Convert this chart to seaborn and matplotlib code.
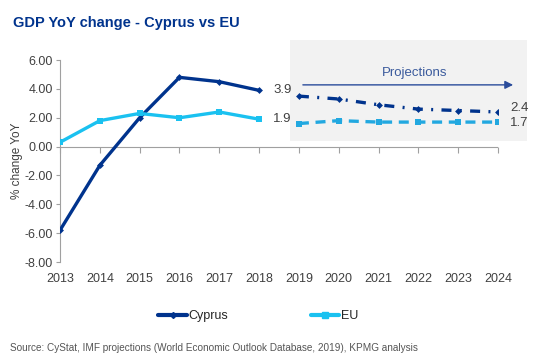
import matplotlib
matplotlib.use("Agg")
import matplotlib.pyplot as plt
from matplotlib.patches import Rectangle
from matplotlib.lines import Line2D
import seaborn as sns
import pandas as pd

# actual data 2013-2018
years_hist = [2013, 2014, 2015, 2016, 2017, 2018]
cyprus_hist = [-5.8, -1.3, 2.0, 4.8, 4.5, 3.9]
eu_hist = [0.3, 1.8, 2.3, 2.0, 2.4, 1.9]

# IMF projections 2019-2024
years_proj = [2019, 2020, 2021, 2022, 2023, 2024]
cyprus_proj = [3.5, 3.3, 2.9, 2.6, 2.5, 2.4]
eu_proj = [1.6, 1.8, 1.7, 1.7, 1.7, 1.7]

yticks = [-8, -6, -4, -2, 0, 2, 4, 6]

DARK = "#00338D"
LIGHT = "#1AC1F0"
GREY = "#404040"
AXIS = "#A0A0A0"


def main():
    sns.set_style("white")
    plt.rcParams['font.family'] = ['Liberation Sans', 'DejaVu Sans']

    fig = plt.figure(figsize=(5.47, 3.64), dpi=100)
    ax = fig.add_axes([0.1097, 0.2802, 0.8007, 0.5548])

    hist = pd.DataFrame({"year": years_hist, "Cyprus": cyprus_hist, "EU": eu_hist})
    proj = pd.DataFrame({"year": years_proj, "Cyprus": cyprus_proj, "EU": eu_proj})

    # shaded projections panel (extends above the plot area)
    ax.add_patch(Rectangle((2018.78, 0.4), 5.95, 7.0, facecolor="#F2F2F2",
                           edgecolor="none", clip_on=False, zorder=0))

    # horizontal category axis crossing at zero
    ax.axhline(0, color=AXIS, lw=0.8, zorder=1)

    sns.lineplot(data=hist, x="year", y="Cyprus", ax=ax, color=DARK, lw=2.4,
                 marker="D", markersize=3.5, markeredgewidth=0, zorder=3)
    sns.lineplot(data=hist, x="year", y="EU", ax=ax, color=LIGHT, lw=2.4,
                 marker="s", markersize=4.5, markeredgewidth=0, zorder=3)
    sns.lineplot(data=proj, x="year", y="Cyprus", ax=ax, color=DARK, lw=2.4,
                 linestyle=(0, (3, 2.5, 0.6, 2.5)),
                 marker="D", markersize=3.5, markeredgewidth=0, zorder=3)
    sns.lineplot(data=proj, x="year", y="EU", ax=ax, color="#22A8E0", lw=2.4,
                 linestyle=(0, (3, 2)),
                 marker="s", markersize=4.5, markeredgewidth=0, zorder=3)

    # value labels
    ax.text(years_hist[-1] + 0.35, cyprus_hist[-1], f"{cyprus_hist[-1]:.1f}",
            ha="left", va="center", fontsize=9.5, color=GREY)
    ax.text(years_hist[-1] + 0.35, eu_hist[-1], f"{eu_hist[-1]:.1f}",
            ha="left", va="center", fontsize=9.5, color=GREY)
    ax.text(years_proj[-1] + 0.3, cyprus_proj[-1] + 0.25, f"{cyprus_proj[-1]:.1f}",
            ha="left", va="center", fontsize=9.5, color=GREY)
    ax.text(years_proj[-1] + 0.3, eu_proj[-1] - 0.05, f"{eu_proj[-1]:.1f}",
            ha="left", va="center", fontsize=9.5, color=GREY)

    # projections arrow
    ax.annotate("", xy=(2024.45, 4.28), xytext=(2019.03, 4.28),
                arrowprops=dict(arrowstyle="-|>", color="#2B4C9B", lw=1,
                                mutation_scale=12), annotation_clip=False)
    ax.text(2021.9, 5.1, "Projections", ha="center", va="center",
            fontsize=9.5, color="#3A5A9C")

    ax.set_xlim(2013, 2024)
    ax.set_ylim(-8, 6)
    ax.set_yticks(yticks)
    ax.set_yticklabels([f"{v:.2f}" for v in yticks], fontsize=9, color=GREY)
    ax.set_xticks(years_hist + years_proj)
    ax.set_xticklabels([str(y) for y in years_hist + years_proj],
                       fontsize=9, color=GREY)
    ax.tick_params(axis="x", length=0, pad=8)
    ax.tick_params(axis="y", length=3, width=0.8, color=AXIS, pad=2,
                   direction="out", left=True)
    ax.set_xlabel("")
    ax.set_ylabel("% change YoY", fontsize=8.5, color=GREY, labelpad=1)

    for side in ["top", "right", "bottom"]:
        ax.spines[side].set_visible(False)
    ax.spines["left"].set_color(AXIS)
    ax.spines["left"].set_linewidth(0.8)

    # tick marks on the zero line
    zero_axis = ax.secondary_xaxis(8 / 14)
    zero_axis.set_xticks(years_hist + years_proj)
    zero_axis.set_xticklabels([])
    zero_axis.tick_params(axis="x", direction="out", bottom=True, top=False,
                          length=4, width=0.8, color=AXIS)
    zero_axis.xaxis.set_ticks_position("bottom")
    for side in ["top", "left", "right", "bottom"]:
        zero_axis.spines[side].set_visible(False)

    handles = [Line2D([], [], color=DARK, lw=3, marker="D", markersize=3),
               Line2D([], [], color=LIGHT, lw=3, marker="s", markersize=4)]
    fig.legend(handles, ["Cyprus", "EU"], loc="center", ncol=2,
               bbox_to_anchor=(0.472, 0.132), frameon=False, fontsize=9,
               handlelength=2.3, handletextpad=0.1, columnspacing=6.6)

    fig.text(0.024, 0.937, "GDP YoY change - Cyprus vs EU", fontsize=10.5,
             fontweight="bold", color=DARK, ha="left", va="center")
    fig.text(0.018, 0.044,
             "Source: CyStat, IMF projections (World Economic Outlook Database, 2019), KPMG analysis",
             fontsize=7.2, color="#555555", ha="left", va="center")

    fig.savefig("out.png", dpi=100)


if __name__ == "__main__":
    main()
